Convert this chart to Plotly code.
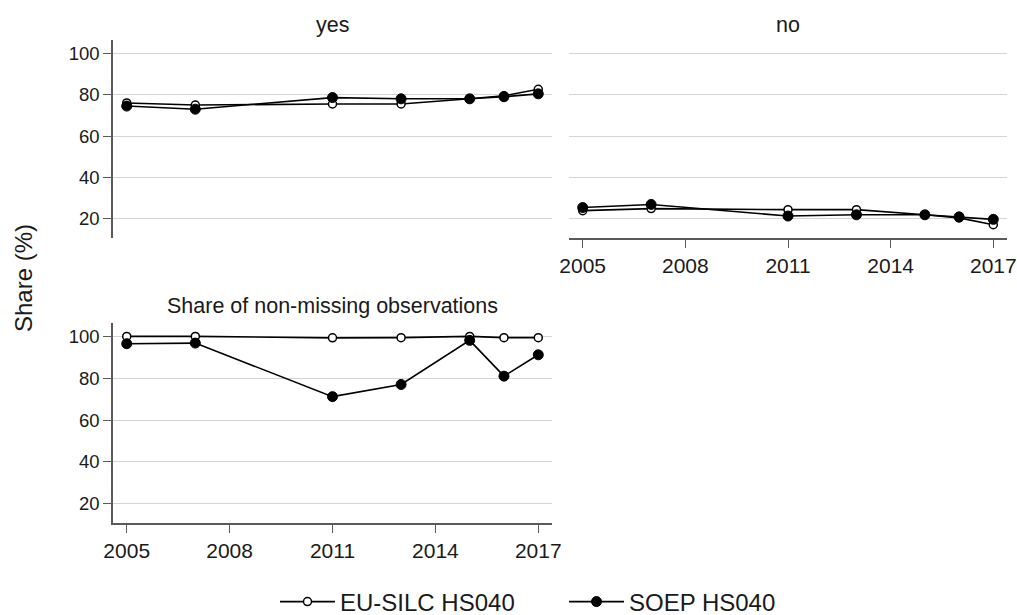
import plotly.graph_objects as go

years = [2005, 2007, 2011, 2013, 2015, 2016, 2017]
yes_eusilc = [76.0, 75.0, 75.5, 75.5, 78.0, 79.5, 82.6]
yes_soep = [74.5, 73.0, 78.6, 78.0, 78.0, 79.0, 80.4]
no_eusilc = [24.0, 25.0, 24.5, 24.5, 22.0, 20.5, 17.2]
no_soep = [25.5, 27.0, 21.4, 22.0, 22.0, 21.0, 19.8]
nonmiss_eusilc = [100.0, 100.0, 99.3, 99.4, 100.0, 99.4, 99.4]
nonmiss_soep = [96.5, 96.8, 71.2, 77.0, 98.1, 81.0, 91.2]

series_names = ["EU-SILC HS040", "SOEP HS040"]
panel_titles = ["yes", "no", "Share of non-missing observations"]
x_ticks = [2005, 2008, 2011, 2014, 2017]
y_ticks = [20, 40, 60, 80, 100]
y_title = "Share (%)"

W, H = 1017, 615
FONT = "Liberation Sans, Arial, sans-serif"
TXT = "#1a1a1a"
AXC = "#5a5a5a"
GRIDC = "#d4d4d4"


def px_x(p):
    return p / W


def px_y(p):
    return 1 - p / H


fig = go.Figure()

panels = [
    ("x2", "y2", yes_eusilc, yes_soep),
    ("x3", "y3", no_eusilc, no_soep),
    ("x", "y", nonmiss_eusilc, nonmiss_soep),
]

for i, (xa, ya, ev, sv) in enumerate(panels):
    fig.add_trace(go.Scatter(
        x=years, y=ev, xaxis=xa, yaxis=ya, mode="lines+markers",
        name=series_names[0], showlegend=(i == 0), legendgroup="e",
        line=dict(color="black", width=1.6),
        marker=dict(symbol="circle", size=8, color="white",
                    line=dict(color="black", width=1.5)),
    ))
    fig.add_trace(go.Scatter(
        x=years, y=sv, xaxis=xa, yaxis=ya, mode="lines+markers",
        name=series_names[1], showlegend=(i == 0), legendgroup="s",
        line=dict(color="black", width=1.6),
        marker=dict(symbol="circle", size=10, color="black",
                    line=dict(color="black", width=1)),
    ))

xr = [2004.6, 2017.4]
yr = [10.8, 106.4]

left_dom = [px_x(113), px_x(552)]
right_dom = [px_x(569), px_x(1007)]
top_dom = [px_y(238), px_y(40)]
bot_dom = [px_y(523), px_y(323)]

xcommon = dict(range=xr, tickvals=x_ticks, showgrid=False, zeroline=False, automargin=False,
               tickfont=dict(family=FONT, size=21, color=TXT),
               linecolor=AXC, linewidth=1.5, tickcolor=AXC, ticklen=8, tickwidth=1.3)
ycommon = dict(range=yr, tickvals=y_ticks, showgrid=True, gridcolor=GRIDC, gridwidth=1,
               zeroline=False, automargin=False, tickfont=dict(family=FONT, size=18.5, color=TXT),
               linecolor=AXC, linewidth=1.5, tickcolor=AXC, ticklen=8, tickwidth=1.3)

fig.update_layout(
    width=W, height=H,
    margin=dict(l=0, r=0, t=0, b=0, pad=0, autoexpand=False),
    paper_bgcolor="white", plot_bgcolor="white",
    font=dict(family=FONT, color=TXT),
    xaxis=dict(domain=left_dom, anchor="y", showline=True, ticks="outside", **xcommon),
    yaxis=dict(domain=bot_dom, anchor="x", showline=True, ticks="outside", **ycommon),
    xaxis2=dict(domain=left_dom, anchor="y2", showline=False, ticks="", showticklabels=False, **xcommon),
    yaxis2=dict(domain=top_dom, anchor="x2", showline=True, ticks="outside", **ycommon),
    xaxis3=dict(domain=right_dom, anchor="y3", showline=True, ticks="outside", **xcommon),
    yaxis3=dict(domain=top_dom, anchor="x3", showline=False, ticks="", showticklabels=False, **ycommon),
    showlegend=True,
    legend=dict(orientation="h", x=px_x(275), xanchor="left", y=px_y(602), yanchor="middle",
                font=dict(family=FONT, size=24, color=TXT), bgcolor="rgba(0,0,0,0)",
                itemwidth=55, entrywidth=219, entrywidthmode="pixels"),
)

annots = [
    (panel_titles[0], 332.5, 25),
    (panel_titles[1], 788, 25),
    (panel_titles[2], 332.5, 306),
]
for txt, ax, ay in annots:
    fig.add_annotation(text=txt, x=px_x(ax), y=px_y(ay), xref="paper", yref="paper",
                       showarrow=False, xanchor="center", yanchor="middle",
                       font=dict(family=FONT, size=21.5, color=TXT))

fig.add_annotation(text=y_title, x=px_x(23), y=px_y(278), xref="paper", yref="paper",
                   showarrow=False, xanchor="center", yanchor="middle", textangle=-90,
                   font=dict(family=FONT, size=24, color=TXT))

post = ("document.documentElement.style.margin='0';"
        "document.body.style.margin='0';"
        "document.body.style.overflow='hidden';")

fig.write_html("out.html", config={"displayModeBar": False}, post_script=post)
